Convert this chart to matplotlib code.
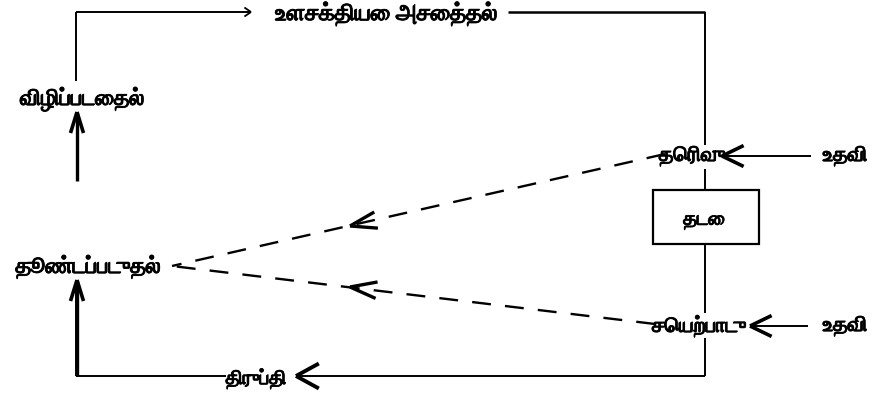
import math
import matplotlib
matplotlib.use("Agg")
import matplotlib.pyplot as plt
import matplotlib.patheffects as pe
from matplotlib import font_manager
from matplotlib.ft2font import FT2Font

# find installed fonts that can draw Tamil, prefer a bold face
tamil_fonts = []
for f in font_manager.fontManager.ttflist:
    try:
        ft = FT2Font(f.fname)
        if ft.get_char_index(0x0BA4) and ft.get_char_index(0x0BB2):
            tamil_fonts.append(f)
    except Exception:
        pass
bold = [f for f in tamil_fonts if isinstance(f.weight, int) and f.weight >= 600]
pick = (bold or tamil_fonts or [None])[0]
tamil_prop = font_manager.FontProperties(fname=pick.fname) if pick else font_manager.FontProperties(family="DejaVu Sans", weight="bold")

# labels of the diagram
top_label = "உளசக்தியை அசைத்தல்"
arousal = "விழிப்படைதல்"
stimulated = "தூண்டப்படுதல்"
choice = "தெரிவு"
barrier = "தடை"
action = "செயற்பாடு"
help_label = "உதவி"
satisfaction = "திருப்தி"

fig = plt.figure(figsize=(8.77, 4.02), dpi=100)
ax = fig.add_axes([0, 0, 1, 1])
ax.set_xlim(0, 877)
ax.set_ylim(402, 0)
ax.axis("off")

lw = 1.4
k = "black"
heavy = [pe.withStroke(linewidth=0.6, foreground=k)]


def label(x, y, s, size=15):
    p = tamil_prop.copy()
    p.set_size(size)
    ax.text(x, y, s, ha="center", va="center", color=k, fontproperties=p,
            path_effects=heavy)


def line(xs, ys, **kw):
    ax.plot(xs, ys, color=k, lw=kw.pop("lw", lw), solid_capstyle="butt", **kw)


def vee(x, y, dx, dy, size=14, spread=0.45, w=2.2):
    # open "<" arrow head with tip at (x, y) pointing along (dx, dy)
    n = math.hypot(dx, dy)
    ux, uy = dx / n, dy / n
    for s in (spread, -spread):
        c, sn = math.cos(s), math.sin(s)
        bx = -(ux * c - uy * sn) * size
        by = -(ux * sn + uy * c) * size
        line([x, x + bx], [y, y + by], lw=w)


# top loop
line([76, 76], [82, 13])
line([76, 250], [13, 13])
vee(251, 13, 1, 0, size=8, spread=0.6, w=1.3)
label(386, 15, top_label, size=16.5)
line([508, 705], [13, 13], lw=1.8)
line([705, 705], [13, 146])

# left side
label(82, 100, arousal, size=16)
line([77, 77], [182, 114], lw=2.4)
vee(77, 113, 0, -1, size=22, spread=0.3, w=2.6)
label(88, 268, stimulated, size=16)
line([77, 77], [377, 282], lw=2.4)
vee(77, 281, 0, -1, size=22, spread=0.3, w=2.6)

# bottom
line([76, 76], [377, 282])
line([76, 226], [377, 377])
label(256, 380, satisfaction, size=14)
line([298, 705], [377, 377])
vee(296, 377, -1, 0, size=26, spread=0.5, w=2.8)
line([705, 705], [377, 339])

# right column
label(692, 157, choice)
line([811, 724], [157, 157])
vee(722, 157, -1, 0, size=24, spread=0.45, w=2.6)
label(845, 157, help_label)
line([705, 705], [170, 191])
ax.add_patch(plt.Rectangle((653, 191), 106, 54, fill=False, ec=k, lw=1.6))
label(704, 222, barrier, size=14)
line([705, 705], [245, 314])
label(699, 327, action)
line([808, 752], [327, 327])
vee(750, 327, -1, 0, size=24, spread=0.45, w=2.6)
label(845, 327, help_label)

# dashed feedback lines
line([665, 172], [155, 267], lw=1.7, ls=(0, (8, 6)))
vee(350, 227, -493, 112, size=28, spread=0.3, w=2.4)
line([655, 172], [325, 267], lw=1.7, ls=(0, (8, 6)))
vee(350, 288, -483, -58, size=28, spread=0.3, w=2.4)

fig.savefig("out.png", dpi=100)
